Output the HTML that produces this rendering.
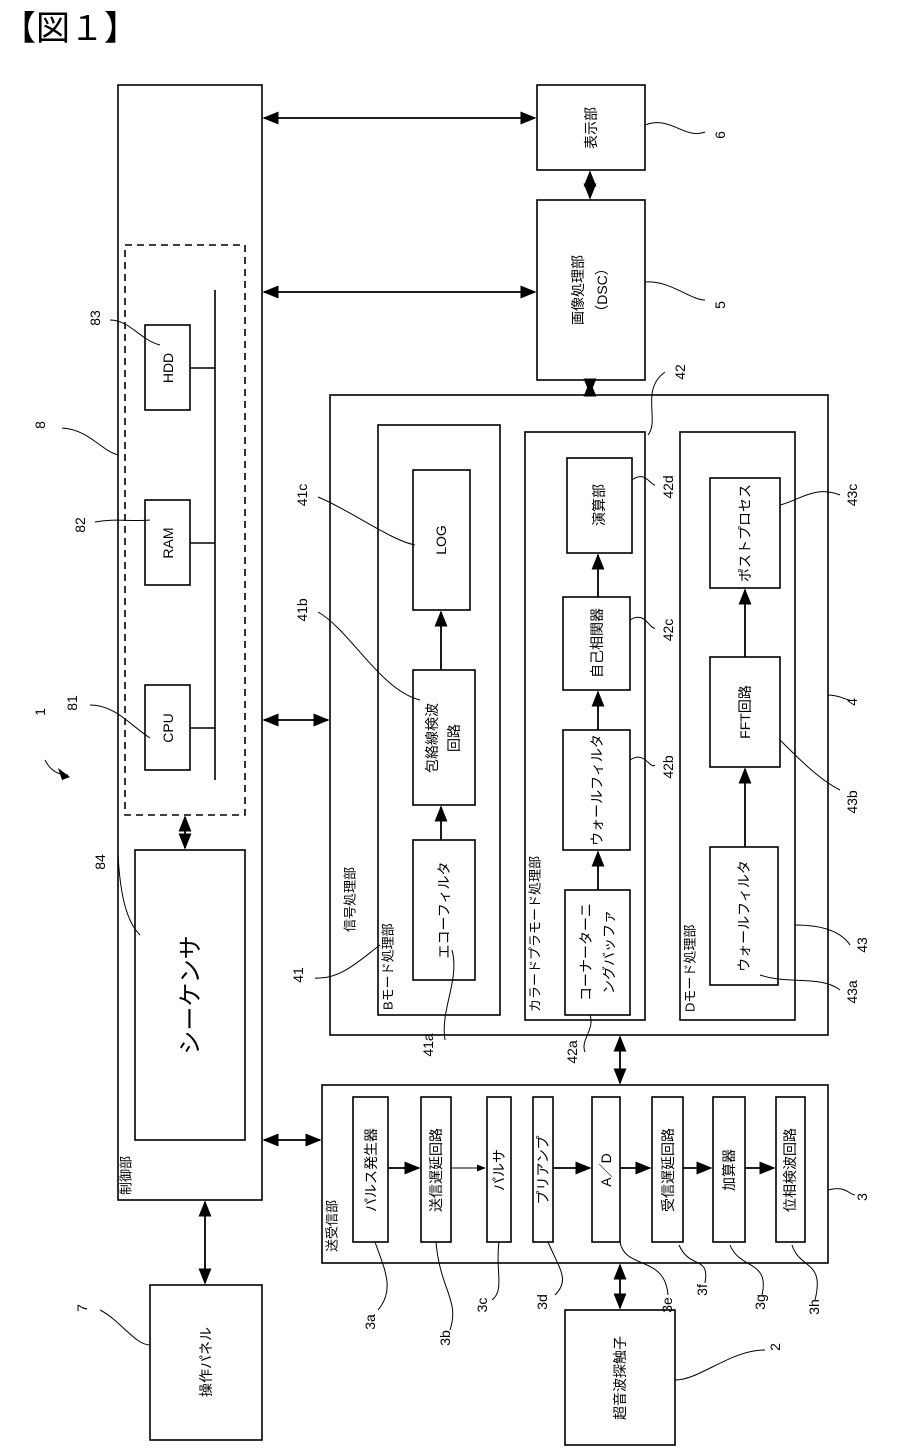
<!DOCTYPE html>
<html><head><meta charset="utf-8"><style>
html,body{margin:0;padding:0;background:#fff;}
svg{display:block;}
text{font-family:"Liberation Sans","Noto Sans CJK JP",sans-serif;fill:#000;}
</style></head><body>
<svg width="908" height="1449" viewBox="0 0 908 1449" xmlns="http://www.w3.org/2000/svg">
<defs>
<marker id="a" viewBox="0 0 10 10" refX="9" refY="5" markerWidth="9" markerHeight="9" orient="auto-start-reverse"><path d="M0,1 L10,5 L0,9 z" fill="#000"/></marker>
</defs>
<text x="2" y="40" font-size="34">【図１】</text>
<g fill="none" stroke="#000" stroke-width="1.6">
<rect x="118" y="85" width="144" height="1115"/>
<rect x="125" y="245" width="120" height="570" stroke-dasharray="7,5"/>
<rect x="145" y="325" width="45" height="85"/>
<rect x="145" y="500" width="45" height="85"/>
<rect x="145" y="685" width="45" height="85"/>
<path d="M215,290 V780 M190,368 H215 M190,543 H215 M190,728 H215"/>
<rect x="135" y="850" width="110" height="290"/>
<rect x="537" y="85" width="108" height="85"/>
<rect x="537" y="200" width="108" height="180"/>
<rect x="330" y="395" width="498" height="640"/>
<rect x="378" y="425" width="122" height="590"/>
<rect x="413" y="470" width="57" height="140"/>
<rect x="413" y="670" width="62" height="135"/>
<rect x="413" y="840" width="62" height="140"/>
<rect x="525" y="432" width="120" height="588"/>
<rect x="567" y="458" width="65" height="95"/>
<rect x="563" y="597" width="67" height="93"/>
<rect x="563" y="730" width="67" height="120"/>
<rect x="565" y="890" width="65" height="125"/>
<rect x="680" y="432" width="115" height="588"/>
<rect x="710" y="478" width="70" height="110"/>
<rect x="710" y="657" width="70" height="110"/>
<rect x="710" y="847" width="68" height="138"/>
<rect x="322" y="1085" width="506" height="178"/>
<rect x="353" y="1097" width="35" height="145"/>
<rect x="421" y="1097" width="30" height="145"/>
<rect x="487" y="1097" width="24" height="145"/>
<rect x="533" y="1097" width="20" height="145"/>
<rect x="592" y="1097" width="28" height="145"/>
<rect x="652" y="1097" width="31" height="145"/>
<rect x="713" y="1097" width="32" height="145"/>
<rect x="776" y="1097" width="29" height="145"/>
<rect x="150" y="1285" width="112" height="155"/>
<rect x="565" y="1310" width="110" height="135"/>
</g>
<g stroke="#000" stroke-width="1.8" fill="none">
<path d="M264,118 H535" marker-start="url(#a)" marker-end="url(#a)"/>
<path d="M264,292 H535" marker-start="url(#a)" marker-end="url(#a)"/>
<path d="M264,720 H328" marker-start="url(#a)" marker-end="url(#a)"/>
<path d="M264,1140 H320" marker-start="url(#a)" marker-end="url(#a)"/>
<path d="M590,172 V198" marker-start="url(#a)" marker-end="url(#a)"/>
<path d="M590,382 V393" marker-start="url(#a)" marker-end="url(#a)"/>
<path d="M185,817 V848" marker-start="url(#a)" marker-end="url(#a)"/>
<path d="M205,1202 V1283" marker-start="url(#a)" marker-end="url(#a)"/>
<path d="M620,1037 V1083" marker-start="url(#a)" marker-end="url(#a)"/>
<path d="M620,1265 V1308" marker-start="url(#a)" marker-end="url(#a)"/>
<path d="M441,840 V807" marker-end="url(#a)"/>
<path d="M441,670 V612" marker-end="url(#a)"/>
<path d="M598,890 V852" marker-end="url(#a)"/>
<path d="M598,730 V692" marker-end="url(#a)"/>
<path d="M598,597 V555" marker-end="url(#a)"/>
<path d="M745,847 V769" marker-end="url(#a)"/>
<path d="M745,657 V590" marker-end="url(#a)"/>
<path d="M388,1168 H419" marker-end="url(#a)"/>
<path d="M451,1168 H485" marker-end="url(#a)" stroke-width="1"/>
<path d="M553,1168 H590" marker-end="url(#a)"/>
<path d="M620,1168 H650" marker-end="url(#a)"/>
<path d="M683,1168 H711" marker-end="url(#a)"/>
<path d="M745,1168 H774" marker-end="url(#a)"/>
</g>
<g stroke="#000" stroke-width="1" fill="none">
<path d="M645,125 C670,115 685,140 705,132"/>
<path d="M645,282 C670,280 690,300 705,300"/>
<path d="M648,435 C660,420 640,390 665,372"/>
<path d="M110,320 C130,320 140,340 160,345"/>
<path d="M62,428 C90,430 100,450 118,455"/>
<path d="M95,522 C115,518 130,522 150,520"/>
<path d="M90,705 C115,705 130,725 150,738"/>
<path d="M118,855 C120,890 125,920 140,935"/>
<path d="M318,497 C350,510 390,540 415,545"/>
<path d="M318,612 C350,630 380,690 420,700"/>
<path d="M315,978 C340,980 360,960 380,945"/>
<path d="M452,950 C460,980 440,1010 445,1040"/>
<path d="M632,480 C645,470 650,485 655,485"/>
<path d="M630,620 C645,610 650,630 655,628"/>
<path d="M630,760 C645,750 650,770 655,765"/>
<path d="M590,1015 C595,1030 580,1040 585,1052"/>
<path d="M780,505 C800,500 815,485 840,495"/>
<path d="M828,695 C840,695 845,700 850,700"/>
<path d="M780,740 C800,760 820,780 840,790"/>
<path d="M795,925 C820,925 840,930 850,945"/>
<path d="M760,975 C790,985 820,975 840,990"/>
<path d="M828,1190 C845,1185 850,1195 855,1195"/>
<path d="M375,1242 C385,1270 395,1290 378,1310"/>
<path d="M436,1242 C440,1290 460,1300 450,1330"/>
<path d="M499,1242 C495,1270 505,1290 492,1300"/>
<path d="M548,1242 C560,1270 570,1280 555,1295"/>
<path d="M620,1242 C625,1270 665,1255 668,1295"/>
<path d="M679,1245 C690,1270 710,1255 705,1283"/>
<path d="M730,1245 C740,1270 770,1260 762,1295"/>
<path d="M792,1245 C800,1270 825,1260 815,1300"/>
<path d="M100,1310 C120,1320 135,1345 150,1345"/>
<path d="M675,1380 C700,1380 730,1350 765,1350"/>
<path d="M45,760 C50,770 58,775 68,775"/>
</g>
<path d="M70,777 L58,768 L62,780 z" fill="#000"/>
<g font-size="14" text-anchor="middle" dominant-baseline="central">
<text transform="translate(168,368) rotate(-90)">HDD</text>
<text transform="translate(168,543) rotate(-90)">RAM</text>
<text transform="translate(168,728) rotate(-90)">CPU</text>
<text transform="translate(191,995) rotate(-90)" font-size="24">シーケンサ</text>
<text transform="translate(591,128) rotate(-90)">表示部</text>
<text transform="translate(578,290) rotate(-90)">画像処理部</text>
<text transform="translate(602,290) rotate(-90)">（DSC）</text>
<text transform="translate(441,540) rotate(-90)">LOG</text>
<text transform="translate(432,738) rotate(-90)">包絡線検波</text>
<text transform="translate(454,738) rotate(-90)">回路</text>
<text transform="translate(444,910) rotate(-90)">エコーフィルタ</text>
<text transform="translate(599,505) rotate(-90)">演算部</text>
<text transform="translate(597,643) rotate(-90)">自己相関器</text>
<text transform="translate(597,790) rotate(-90)">ウォールフィルタ</text>
<text transform="translate(586,952) rotate(-90)">コーナーターニ</text>
<text transform="translate(609,952) rotate(-90)">ングバッファ</text>
<text transform="translate(745,533) rotate(-90)">ポストプロセス</text>
<text transform="translate(745,712) rotate(-90)">FFT回路</text>
<text transform="translate(744,916) rotate(-90)">ウォールフィルタ</text>
<text transform="translate(371,1170) rotate(-90)">パルス発生器</text>
<text transform="translate(436,1170) rotate(-90)">送信遅延回路</text>
<text transform="translate(499,1170) rotate(-90)">パルサ</text>
<text transform="translate(543,1170) rotate(-90)">プリアンプ</text>
<text transform="translate(606,1170) rotate(-90)">A／D</text>
<text transform="translate(668,1170) rotate(-90)">受信遅延回路</text>
<text transform="translate(729,1170) rotate(-90)">加算器</text>
<text transform="translate(790,1170) rotate(-90)">位相検波回路</text>
<text transform="translate(206,1362) rotate(-90)">操作パネル</text>
<text transform="translate(620,1378) rotate(-90)">超音波探触子</text>
</g>
<g font-size="13" dominant-baseline="central">
<text transform="translate(126,1195) rotate(-90)">制御部</text>
<text transform="translate(350,932) rotate(-90)">信号処理部</text>
<text transform="translate(388,1010) rotate(-90)">Bモード処理部</text>
<text transform="translate(535,1012) rotate(-90)">カラードプラモード処理部</text>
<text transform="translate(690,1012) rotate(-90)">Dモード処理部</text>
<text transform="translate(332,1252) rotate(-90)">送受信部</text>
</g>
<g font-size="14" text-anchor="middle" dominant-baseline="central">
<text transform="translate(720,135) rotate(-90)">6</text>
<text transform="translate(720,305) rotate(-90)">5</text>
<text transform="translate(680,372) rotate(-90)">42</text>
<text transform="translate(95,318) rotate(-90)">83</text>
<text transform="translate(40,425) rotate(-90)">8</text>
<text transform="translate(80,525) rotate(-90)">82</text>
<text transform="translate(72,703) rotate(-90)">81</text>
<text transform="translate(40,712) rotate(-90)">1</text>
<text transform="translate(100,862) rotate(-90)">84</text>
<text transform="translate(302,495) rotate(-90)">41c</text>
<text transform="translate(302,610) rotate(-90)">41b</text>
<text transform="translate(298,975) rotate(-90)">41</text>
<text transform="translate(428,1045) rotate(-90)">41a</text>
<text transform="translate(668,487) rotate(-90)">42d</text>
<text transform="translate(668,630) rotate(-90)">42c</text>
<text transform="translate(668,767) rotate(-90)">42b</text>
<text transform="translate(572,1052) rotate(-90)">42a</text>
<text transform="translate(852,495) rotate(-90)">43c</text>
<text transform="translate(852,702) rotate(-90)">4</text>
<text transform="translate(852,802) rotate(-90)">43b</text>
<text transform="translate(862,945) rotate(-90)">43</text>
<text transform="translate(852,992) rotate(-90)">43a</text>
<text transform="translate(862,1197) rotate(-90)">3</text>
<text transform="translate(370,1322) rotate(-90)">3a</text>
<text transform="translate(445,1338) rotate(-90)">3b</text>
<text transform="translate(482,1305) rotate(-90)">3c</text>
<text transform="translate(542,1302) rotate(-90)">3d</text>
<text transform="translate(667,1305) rotate(-90)">3e</text>
<text transform="translate(702,1290) rotate(-90)">3f</text>
<text transform="translate(760,1302) rotate(-90)">3g</text>
<text transform="translate(814,1307) rotate(-90)">3h</text>
<text transform="translate(82,1308) rotate(-90)">7</text>
<text transform="translate(775,1347) rotate(-90)">2</text>
</g>
</svg>
</body></html>
